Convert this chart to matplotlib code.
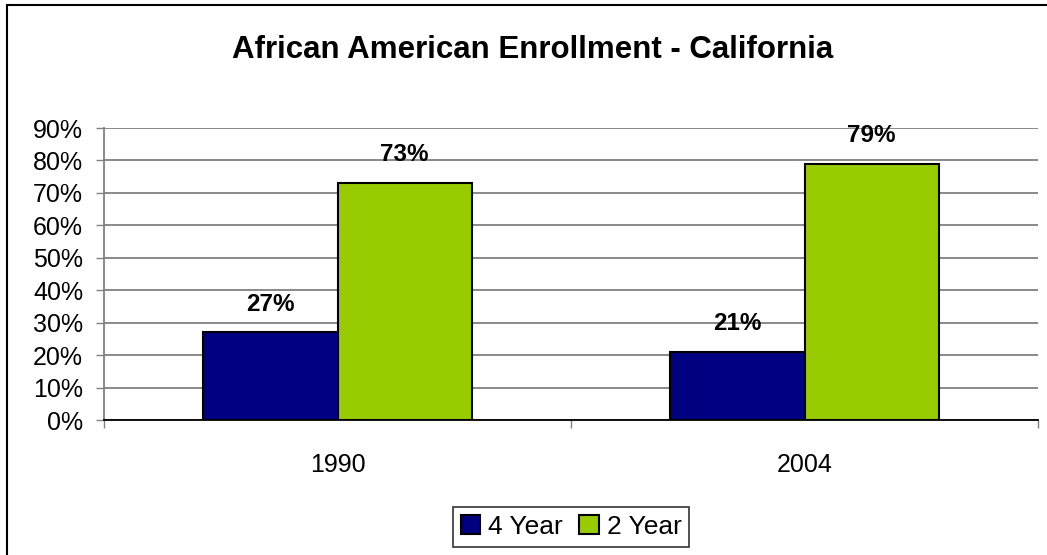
import matplotlib.pyplot as plt
import matplotlib.patches as patches
import numpy as np

plt.rcParams['font.family'] = ['Liberation Sans', 'DejaVu Sans']

# Data
years = ["1990", "2004"]
four_year = [27, 21]
two_year = [73, 79]
series_names = ["4 Year", "2 Year"]
colors = ["#000080", "#99CC00"]

fig = plt.figure(figsize=(10.47, 5.55), dpi=100)
ax = fig.add_axes([104/1047, 135/555, 934/1047, 292/555])

x = np.arange(len(years))
width = 0.287
b1 = ax.bar(x - width/2, four_year, width, color=colors[0], edgecolor="black", linewidth=1.5, label=series_names[0], zorder=3)
b2 = ax.bar(x + width/2, two_year, width, color=colors[1], edgecolor="black", linewidth=1.5, label=series_names[1], zorder=3)

# value labels
for bars, vals in [(b1, four_year), (b2, two_year)]:
    for rect, v in zip(bars, vals):
        ax.annotate(f"{v}%", (rect.get_x() + rect.get_width()/2, v),
                    xytext=(0, 12), textcoords="offset points",
                    ha="center", va="bottom", fontsize=17.5, fontweight="bold")

ax.set_xlim(-0.5, 1.5)
ax.set_ylim(0, 90)
ax.set_yticks(range(0, 91, 10))
ax.set_yticklabels([f"{v}%" for v in range(0, 91, 10)], fontsize=18)
ax.set_xticks(x)
ax.set_xticklabels(years, fontsize=18)
ax.tick_params(axis="x", which="major", length=0, pad=24)
ax.set_xticks([-0.5, 0.5, 1.5], minor=True)
ax.tick_params(axis="x", which="minor", length=6, width=1, color="#808080")
ax.tick_params(axis="y", length=6, width=1, color="#808080", pad=9)

# gridlines
ax.yaxis.grid(True, color="#808080", linewidth=1.3, zorder=0)
ax.set_axisbelow(True)
for s in ["top", "right"]:
    ax.spines[s].set_visible(False)
ax.spines["left"].set_color("#808080")
ax.spines["left"].set_linewidth(1.3)
ax.spines["bottom"].set_color("black")
ax.spines["bottom"].set_linewidth(1.3)

fig.suptitle("African American Enrollment - California", x=533/1047, y=1 - 50/555,
             va="center", fontsize=22.5, fontweight="bold")

leg = fig.legend(handles=[b1, b2], loc="center", bbox_to_anchor=(571/1047, 28/555),
                 ncol=2, fontsize=19, frameon=True, fancybox=False,
                 handlelength=0.75, handleheight=0.75, handletextpad=0.3,
                 columnspacing=0.6, borderpad=0.3, borderaxespad=0)
leg.get_frame().set_edgecolor("black")
leg.get_frame().set_linewidth(1.2)

# outer chart border
fig.patches.append(patches.Rectangle((7/1047, -0.1), 1.2, 1 - 5/555 + 0.1,
                                     transform=fig.transFigure, fill=False,
                                     edgecolor="black", linewidth=1.5))

fig.savefig("out.png", dpi=100)
